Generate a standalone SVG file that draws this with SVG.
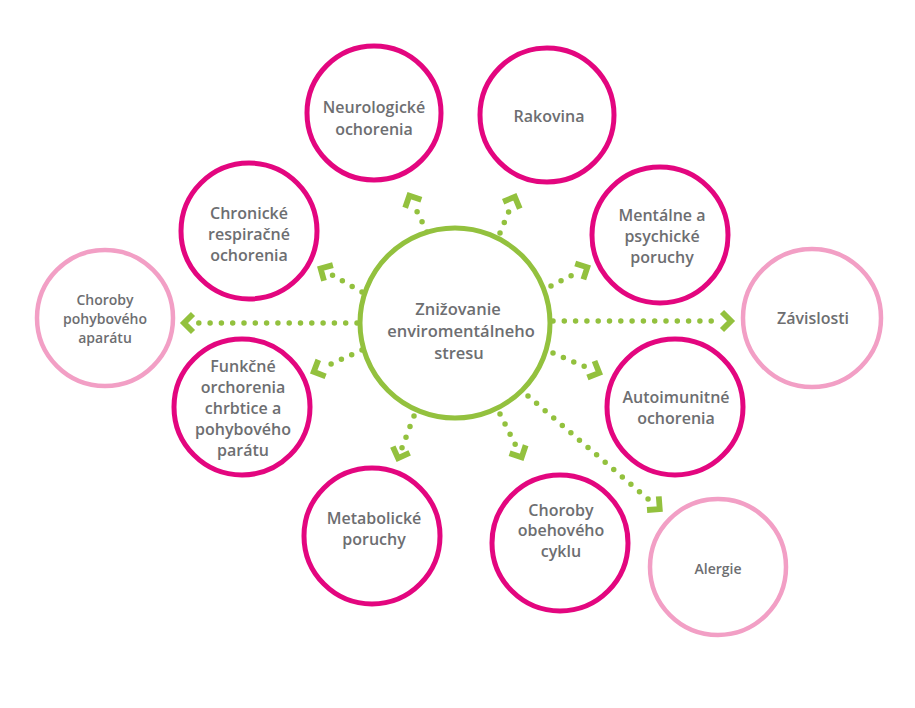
<svg xmlns="http://www.w3.org/2000/svg" width="915" height="708" viewBox="0 0 915 708">
<style>
  .mag{fill:#fff;stroke:#e3067f;stroke-width:5}
  .pink{fill:#fff;stroke:#f29fc5;stroke-width:4.5}
  .green{fill:#fff;stroke:#93c13e;stroke-width:5}
  text{font-family:"Open Sans","Liberation Sans",sans-serif;font-weight:600;fill:#6d6e71;text-anchor:middle}
  .t{font-size:16px}
  .ts{font-size:14px}
  .tc{font-size:16.5px}
  .dots{fill:none;stroke:#93c13e;stroke-width:5.5;stroke-linecap:round;stroke-dasharray:0 11.3}
  .head{fill:none;stroke:none;marker-end:url(#chev)}
</style>
<defs>
  <marker id="chev" markerUnits="userSpaceOnUse" markerWidth="40" markerHeight="40" viewBox="-20 -20 40 40" refX="0" refY="0" orient="auto" overflow="visible">
    <path d="M-12,-9 L-3,0 L-12,9" fill="none" stroke="#93c13e" stroke-width="5.8" stroke-dasharray="none" stroke-linejoin="miter"/>
  </marker>
</defs>
<rect width="915" height="708" fill="#fff"/>
<g id="connectors">
  <path class="dots" d="M357,323 L194,323"/><path class="head" d="M194,323 L181,323"/>
  <path class="dots" d="M553,321 L721,321"/><path class="head" d="M721,321 L734,321"/>
  <path class="dots" d="M362,292 L329.3,273.4"/><path class="head" d="M329.3,273.4 L318,267"/>
  <path class="dots" d="M362,350 L322.9,367.7"/><path class="head" d="M322.9,367.7 L311,373"/>
  <path class="dots" d="M427,232 L413.7,204.7"/><path class="head" d="M413.7,204.7 L408,193"/>
  <path class="dots" d="M500,233 L511.1,206"/><path class="head" d="M511.1,206 L516,194"/>
  <path class="dots" d="M551,286 L578.4,271.9"/><path class="head" d="M578.4,271.9 L590,266"/>
  <path class="dots" d="M553,353 L590.1,368.9"/><path class="head" d="M590.1,368.9 L602,374"/>
  <path class="dots" d="M414,416 L401.6,448.8"/><path class="head" d="M401.6,448.8 L397,461"/>
  <path class="dots" d="M500,414 L517.2,448.4"/><path class="head" d="M517.2,448.4 L523,460"/>
  <path class="dots" d="M528,396 L652.1,502.5"/><path class="head" d="M652.1,502.5 L662,511"/>
</g>
<g id="center">
  <circle class="green" cx="455" cy="323" r="95"/>
  <text class="tc" x="458" y="315">Znižovanie</text>
  <text class="tc" x="461" y="337">enviromentálneho</text>
  <text class="tc" x="459" y="359">stresu</text>
</g>
<g id="neurologicke">
  <circle class="mag" cx="374" cy="113" r="67"/>
  <text class="t" x="374" y="113">Neurologické</text>
  <text class="t" x="374" y="135">ochorenia</text>
</g>
<g id="rakovina">
  <circle class="mag" cx="547" cy="115" r="67"/>
  <text class="t" x="549" y="122">Rakovina</text>
</g>
<g id="chronicke">
  <circle class="mag" cx="249" cy="231" r="68"/>
  <text class="t" x="249" y="219">Chronické</text>
  <text class="t" x="249" y="240">respiračné</text>
  <text class="t" x="249" y="261">ochorenia</text>
</g>
<g id="mentalne">
  <circle class="mag" cx="660" cy="235" r="68"/>
  <text class="t" x="662" y="221">Mentálne a</text>
  <text class="t" x="662" y="242">psychické</text>
  <text class="t" x="662" y="263">poruchy</text>
</g>
<g id="pohybovy">
  <circle class="pink" cx="105" cy="318" r="68"/>
  <text class="ts" x="105" y="305">Choroby</text>
  <text class="ts" x="105" y="324">pohybového</text>
  <text class="ts" x="105" y="343">aparátu</text>
</g>
<g id="zavislosti">
  <circle class="pink" cx="812" cy="318" r="69"/>
  <text class="t" x="813" y="324">Závislosti</text>
</g>
<g id="funkcne">
  <circle class="mag" cx="242" cy="407" r="68"/>
  <text class="t" x="243" y="372">Funkčné</text>
  <text class="t" x="243" y="393">orchorenia</text>
  <text class="t" x="243" y="414">chrbtice a</text>
  <text class="t" x="243" y="435">pohybového</text>
  <text class="t" x="243" y="456">parátu</text>
</g>
<g id="autoimunitne">
  <circle class="mag" cx="675" cy="407" r="68"/>
  <text class="t" x="676" y="403">Autoimunitné</text>
  <text class="t" x="676" y="424">ochorenia</text>
</g>
<g id="metabolicke">
  <circle class="mag" cx="372" cy="536" r="68"/>
  <text class="t" x="374" y="524">Metabolické</text>
  <text class="t" x="374" y="545">poruchy</text>
</g>
<g id="obehovy">
  <circle class="mag" cx="560" cy="543" r="68"/>
  <text class="t" x="561" y="516">Choroby</text>
  <text class="t" x="561" y="536">obehového</text>
  <text class="t" x="561" y="557">cyklu</text>
</g>
<g id="alergie">
  <circle class="pink" cx="718" cy="567" r="68"/>
  <text class="ts" x="718" y="574">Alergie</text>
</g>
</svg>
